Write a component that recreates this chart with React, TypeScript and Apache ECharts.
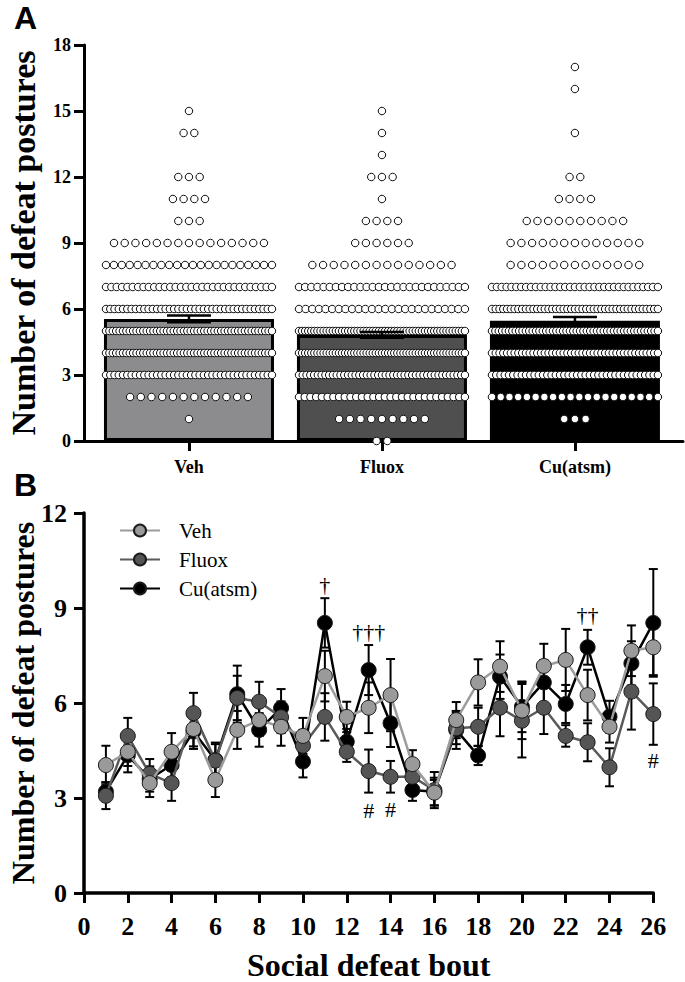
import React, { useEffect, useRef } from 'react';
import * as echarts from 'echarts';

// ---------- Panel A data ----------
const groups = ['Veh', 'Fluox', 'Cu(atsm)'];
const groupMeans = [5.55, 4.82, 5.47];
const groupSems = [0.15, 0.13, 0.17];
const groupColors = ['#8c8c8e', '#4f4f4f', '#000000'];
// number of animals/bouts per posture value (index = value 0..17)
const postureValues = [0, 1, 2, 3, 4, 5, 6, 7, 8, 9, 10, 11, 12, 13, 14, 15, 16, 17];
const vehCounts = [0, 1, 12, 40, 50, 50, 40, 32, 22, 15, 3, 4, 3, 0, 2, 1, 0, 0];
const fluoxCounts = [2, 9, 30, 45, 55, 55, 26, 28, 14, 6, 4, 1, 3, 1, 1, 1, 0, 0];
const cuCounts = [0, 3, 20, 40, 45, 50, 45, 35, 13, 13, 10, 4, 2, 0, 1, 0, 1, 1];

// ---------- Panel B data ----------
const bouts = [1, 2, 3, 4, 5, 6, 7, 8, 9, 10, 11, 12, 13, 14, 15, 16, 17, 18, 19, 20, 21, 22, 23, 24, 25, 26];
const vehMeans = [4.04, 4.46, 3.47, 4.46, 5.18, 3.57, 5.15, 5.46, 5.25, 4.96, 6.85, 5.56, 5.85, 6.25, 4.07, 3.17, 5.46, 6.65, 7.15, 5.76, 7.17, 7.36, 6.25, 5.25, 7.65, 7.76];
const fluoxMeans = [3.07, 4.96, 3.76, 3.47, 5.68, 4.18, 6.16, 6.04, 5.55, 4.65, 5.56, 4.46, 3.85, 3.67, 3.67, 3.25, 5.2, 5.25, 5.85, 5.44, 5.85, 4.96, 4.76, 3.97, 6.36, 5.65];
const cuMeans = [3.2, 4.35, 3.6, 4.04, 5.1, 4.2, 6.28, 5.15, 5.84, 4.15, 8.53, 4.78, 7.04, 5.36, 3.25, 3.2, 5.15, 4.34, 6.83, 5.88, 6.65, 5.97, 7.76, 5.57, 7.25, 8.53];
const vehSems = [0.61, 0.45, 0.44, 0.59, 0.55, 0.54, 0.6, 0.5, 0.6, 0.57, 0.8, 0.48, 0.8, 1.14, 0.44, 0.4, 0.57, 0.73, 0.8, 0.9, 0.7, 0.98, 0.8, 0.5, 0.8, 0.88];
const fluoxSems = [0.42, 0.57, 0.47, 0.56, 0.64, 0.57, 0.7, 0.63, 0.5, 0.5, 0.75, 0.32, 0.68, 0.5, 0.4, 0.57, 0.5, 0.6, 0.9, 1.16, 0.83, 0.34, 0.6, 0.6, 1.2, 0.97];
const cuSems = [0.3, 0.54, 0.4, 0.4, 0.55, 0.5, 0.9, 0.53, 0.6, 0.5, 0.78, 0.4, 0.79, 0.75, 0.34, 0.44, 0.6, 0.3, 0.7, 0.8, 0.7, 0.6, 0.55, 0.5, 0.7, 1.7];
const daggerMarks: [number, number, string][] = [[11, 9.75, '†'], [13, 8.27, '†††'], [23, 8.78, '††']];
const hashMarks: [number, number, string][] = [[13, 2.62, '#'], [14, 2.65, '#'], [26, 4.2, '#']];

const SERIF = 'Liberation Serif';
const SANS = 'Liberation Sans';

// layout constants for the dot rows (x-axis units)
const DOT_STEP = 0.0555;
const DOT_SPREAD = 0.86;

function buildDots(): number[][] {
  const out: number[][] = [];
  [vehCounts, fluoxCounts, cuCounts].forEach((counts, gi) => {
    counts.forEach((n, vi) => {
      if (!n) return;
      const step = n > 1 ? Math.min(DOT_STEP, DOT_SPREAD / (n - 1)) : 0;
      for (let k = 0; k < n; k++) out.push([gi + (k - (n - 1) / 2) * step, postureValues[vi]]);
    });
  });
  return out;
}

function errRender(hw: number, lw: number) {
  return (params: any, api: any) => {
    const x = api.value(0);
    const m = api.value(1);
    const s = api.value(2);
    const top = api.coord([x, m + s]);
    const bot = api.coord([x, m - s]);
    const st = { stroke: '#000', lineWidth: lw };
    return {
      type: 'group',
      children: [
        { type: 'line', shape: { x1: top[0], y1: top[1], x2: bot[0], y2: bot[1] }, style: st },
        { type: 'line', shape: { x1: top[0] - hw, y1: top[1], x2: top[0] + hw, y2: top[1] }, style: st },
        { type: 'line', shape: { x1: bot[0] - hw, y1: bot[1], x2: bot[0] + hw, y2: bot[1] }, style: st },
      ],
    };
  };
}

const marks = [...daggerMarks, ...hashMarks];

export default function App() {
  const ref = useRef<HTMLDivElement>(null);
  useEffect(() => {
    if (!ref.current) return;
    const chart = echarts.init(ref.current, null, { renderer: 'svg' });
    const boldLabel = (size: number, margin: number) => ({
      fontSize: size, fontWeight: 'bold', fontFamily: SERIF, color: '#000', margin,
    });
    const lineSeries = (name: string, means: number[], fill: string, line: string, z: number) => ({
      name, type: 'line', xAxisIndex: 2, yAxisIndex: 2,
      data: bouts.map((b, i) => [b, means[i]]),
      symbol: 'circle', symbolSize: 15,
      lineStyle: { color: line, width: 2.5 },
      itemStyle: { color: fill, borderColor: '#1a1a1a', borderWidth: 1 },
      z,
    });
    const errSeries = (means: number[], sems: number[]) => ({
      type: 'custom', xAxisIndex: 2, yAxisIndex: 2,
      data: bouts.map((b, i) => [b, means[i], sems[i]]),
      renderItem: errRender(4.5, 2),
      z: 1,
    });
    const option: any = {
      animation: false,
      textStyle: { fontFamily: SERIF },
      grid: [
        { left: 84, top: 45, width: 599, height: 396, outerBoundsMode: 'none', containLabel: false },
        { left: 92.5, top: 45, width: 579, height: 396, outerBoundsMode: 'none', containLabel: false },
        { left: 84, top: 513, width: 569.3, height: 380, outerBoundsMode: 'none', containLabel: false },
      ],
      xAxis: [
        {
          gridIndex: 0, type: 'value', min: -0.544, max: 2.56,
          axisLine: { show: true, onZero: false, lineStyle: { color: '#000', width: 3 } },
          axisTick: { show: false }, axisLabel: { show: false }, splitLine: { show: false },
        },
        {
          gridIndex: 1, type: 'category', data: groups,
          axisLine: { show: true, onZero: false, lineStyle: { color: '#000', width: 3 } },
          axisTick: { show: true, alignWithLabel: true, length: 10, lineStyle: { color: '#000', width: 3 } },
          axisLabel: boldLabel(18, 17),
        },
        {
          gridIndex: 2, type: 'value', min: 0, max: 26, interval: 2,
          axisLine: { show: true, onZero: false, lineStyle: { color: '#000', width: 3.5 } },
          axisTick: { show: true, length: 10, lineStyle: { color: '#000', width: 3 } },
          axisLabel: boldLabel(26, 20),
          splitLine: { show: false },
          name: 'Social defeat bout', nameLocation: 'middle', nameGap: 56,
          nameTextStyle: { fontSize: 32, fontWeight: 'bold', fontFamily: SERIF, color: '#000' },
        },
      ],
      yAxis: [
        {
          gridIndex: 0, type: 'value', min: 0, max: 18, interval: 3,
          axisLine: { show: true, onZero: false, lineStyle: { color: '#000', width: 3 } },
          axisTick: { show: true, length: 10, lineStyle: { color: '#000', width: 3 } },
          axisLabel: boldLabel(18, 13),
          splitLine: { show: false },
          name: 'Number of defeat postures', nameLocation: 'middle', nameGap: 44,
          nameTextStyle: { fontSize: 34, fontWeight: 'bold', fontFamily: SERIF, color: '#000' },
        },
        { gridIndex: 1, type: 'value', min: 0, max: 18, show: false },
        {
          gridIndex: 2, type: 'value', min: 0, max: 12, interval: 3,
          axisLine: { show: true, onZero: false, lineStyle: { color: '#000', width: 3.5 } },
          axisTick: { show: true, length: 10, lineStyle: { color: '#000', width: 3 } },
          axisLabel: boldLabel(26, 17),
          splitLine: { show: false },
          name: 'Number of defeat postures', nameLocation: 'middle', nameGap: 45, nameMoveOverlap: false,
          nameTextStyle: { fontSize: 32, fontWeight: 'bold', fontFamily: SERIF, color: '#000' },
        },
      ],
      legend: {
        data: ['Veh', 'Fluox', 'Cu(atsm)'],
        orient: 'vertical', left: 119, top: 520, padding: 0,
        itemWidth: 40, itemHeight: 15, itemGap: 8,
        textStyle: { fontSize: 21, fontFamily: SERIF, color: '#000', padding: [0, 0, 0, 14] },
      },
      graphic: [
        { type: 'text', left: 14, top: 2, style: { text: 'A', fontSize: 32, fontWeight: 'bold', fontFamily: SANS, fill: '#000' } },
        { type: 'text', left: 14, top: 469, style: { text: 'B', fontSize: 32, fontWeight: 'bold', fontFamily: SANS, fill: '#000' } },
      ],
      series: [
        {
          type: 'bar', xAxisIndex: 0, yAxisIndex: 0, barWidth: 170,
          data: groups.map((g, i) => ({ value: [i, groupMeans[i]], itemStyle: { color: groupColors[i] } })),
          itemStyle: { borderColor: '#000', borderWidth: 3 },
          z: 1,
        },
        {
          type: 'scatter', xAxisIndex: 0, yAxisIndex: 0, data: buildDots(),
          symbolSize: 7.5,
          itemStyle: { color: '#fff', borderColor: '#111', borderWidth: 1, opacity: 1 },
          z: 2,
        },
        {
          type: 'custom', xAxisIndex: 0, yAxisIndex: 0,
          data: groups.map((g, i) => [i, groupMeans[i], groupSems[i]]),
          renderItem: errRender(22, 2.5),
          z: 3,
        },
        errSeries(cuMeans, cuSems),
        errSeries(fluoxMeans, fluoxSems),
        errSeries(vehMeans, vehSems),
        lineSeries('Cu(atsm)', cuMeans, '#000000', '#000000', 2),
        lineSeries('Fluox', fluoxMeans, '#555555', '#5a5a5a', 3),
        lineSeries('Veh', vehMeans, '#9a9a9a', '#9c9c9c', 4),
        {
          type: 'custom', xAxisIndex: 2, yAxisIndex: 2,
          data: marks.map((m) => [m[0], m[1]]),
          renderItem: (params: any, api: any) => {
            const p = api.coord([api.value(0), api.value(1)]);
            return {
              type: 'text', x: p[0], y: p[1],
              style: {
                text: marks[params.dataIndex][2], fill: '#000', fontSize: 22, fontFamily: SERIF,
                align: 'center', verticalAlign: 'middle',
              },
            };
          },
          z: 5,
        },
      ],
    };
    chart.setOption(option);
    return () => chart.dispose();
  }, []);
  return <div ref={ref} style={{ position: 'fixed', left: 0, top: 0, width: 685, height: 982, background: '#fff' }} />;
}
